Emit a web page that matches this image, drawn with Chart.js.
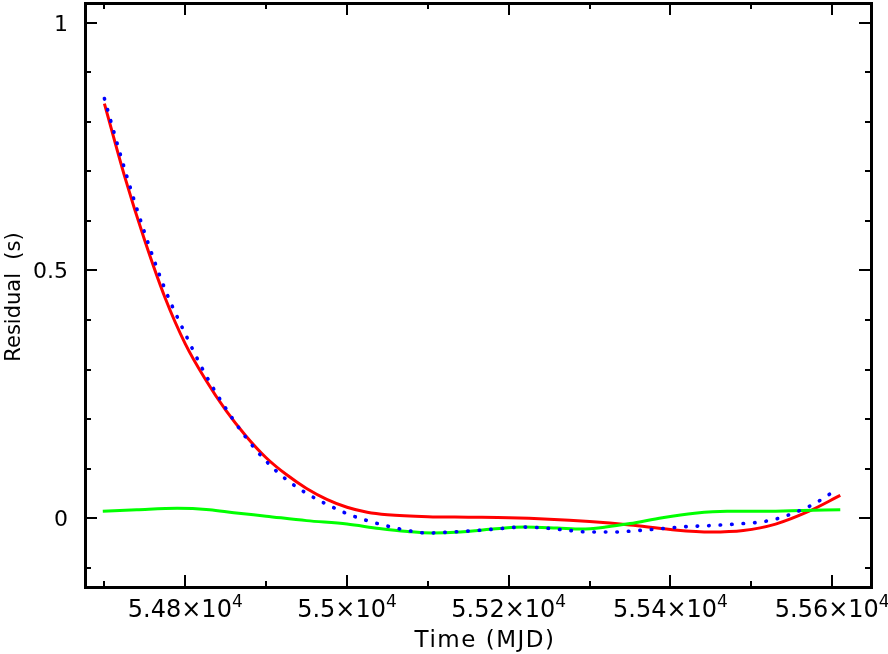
<!DOCTYPE html>
<html>
<head>
<meta charset="utf-8">
<script src="https://cdn.jsdelivr.net/npm/chart.js@4.4.0/dist/chart.umd.min.js"></script>
<style>
  html, body { margin: 0; padding: 0; background: #fff; }
  #wrap { width: 888px; height: 654px; }
</style>
</head>
<body>
<div id="wrap"><canvas id="chart" width="888" height="654"></canvas></div>
<script>
// red fit (solid)
const redMjd = [54700, 54725, 54750, 54775, 54800, 54825, 54850, 54875, 54900, 54925, 54950, 54975,
  55000, 55025, 55050, 55100, 55150, 55200, 55250, 55300, 55350, 55400, 55450, 55490, 55530, 55570, 55610];
const redRes = [0.837, 0.690, 0.560, 0.445, 0.352, 0.280, 0.218, 0.166, 0.122, 0.088, 0.060, 0.038,
  0.022, 0.012, 0.007, 0.003, 0.002, 0.001, -0.002, -0.007, -0.014, -0.023, -0.028, -0.025, -0.012, 0.013, 0.046];

// blue fit (dotted)
const blueMjd = [54700, 54725, 54750, 54775, 54800, 54825, 54850, 54875, 54900, 54925, 54950, 54975,
  55000, 55025, 55050, 55075, 55100, 55130, 55160, 55190, 55215, 55245, 55270, 55300, 55330, 55360,
  55390, 55420, 55450, 55480, 55510, 55530, 55555, 55580, 55602];
const blueRes = [0.847, 0.705, 0.575, 0.462, 0.372, 0.290, 0.222, 0.163, 0.115, 0.078, 0.050, 0.028,
  0.009, -0.005, -0.016, -0.025, -0.030, -0.028, -0.025, -0.021, -0.018, -0.020, -0.024, -0.028, -0.028, -0.025,
  -0.021, -0.017, -0.015, -0.012, -0.008, -0.002, 0.012, 0.031, 0.054];

// green fit (solid)
const greenMjd = [54698, 54740, 54790, 54830, 54860, 54900, 54950, 55000, 55040, 55075, 55105, 55140,
  55180, 55220, 55260, 55290, 55320, 55350, 55390, 55430, 55470, 55510, 55550, 55610];
const greenRes = [0.014, 0.017, 0.020, 0.017, 0.011, 0.004, -0.005, -0.012, -0.021, -0.027, -0.030, -0.028,
  -0.022, -0.018, -0.020, -0.022, -0.018, -0.011, 0.001, 0.010, 0.014, 0.014, 0.015, 0.017];

// ticks
const xMajor = [54800, 55000, 55200, 55400, 55600];
const xMajorLabels = ["5.48", "5.5", "5.52", "5.54", "5.56"];
const xExponent = "4";
const xMinor = [54700, 54900, 55100, 55300, 55500];
const yMajor = [0, 0.5, 1];
const yMajorLabels = ["0", "0.5", "1"];
const yMinor = [-0.1, 0.1, 0.2, 0.3, 0.4, 0.6, 0.7, 0.8, 0.9];

const xTitle = "Time (MJD)";
const yTitle = "Residual  (s)";

const toPoints = (xs, ys) => xs.map((x, i) => ({ x: x, y: ys[i] }));

const FONT = '"DejaVu Sans", sans-serif';

// frame, inward ticks and labels (pgplot style)
const framePlugin = {
  id: "frame",
  afterDatasetsDraw(chart) {
    const ctx = chart.ctx;
    const a = chart.chartArea;
    const xs = chart.scales.x;
    const ys = chart.scales.y;
    ctx.save();
    ctx.strokeStyle = "#000";
    ctx.lineWidth = 3;
    ctx.strokeRect(a.left + 0.5, a.top + 0.5, a.right - a.left, a.bottom - a.top);

    ctx.lineWidth = 2;
    ctx.beginPath();
    const xTick = (v, len) => {
      const px = Math.round(xs.getPixelForValue(v));
      ctx.moveTo(px, a.bottom);
      ctx.lineTo(px, a.bottom - len);
      ctx.moveTo(px, a.top);
      ctx.lineTo(px, a.top + len);
    };
    const yTick = (v, len) => {
      const py = Math.round(ys.getPixelForValue(v));
      ctx.moveTo(a.left, py);
      ctx.lineTo(a.left + len, py);
      ctx.moveTo(a.right, py);
      ctx.lineTo(a.right - len, py);
    };
    xMajor.forEach((v) => xTick(v, 12));
    xMinor.forEach((v) => xTick(v, 6));
    yMajor.forEach((v) => yTick(v, 12));
    yMinor.forEach((v) => yTick(v, 6));
    ctx.stroke();

    ctx.fillStyle = "#000";
    ctx.textBaseline = "alphabetic";

    // y tick labels
    ctx.font = "22px " + FONT;
    ctx.textAlign = "right";
    yMajor.forEach((v, i) => {
      ctx.fillText(yMajorLabels[i], 68, ys.getPixelForValue(v) + 8);
    });

    // x tick labels, mantissa x 10^4
    ctx.textAlign = "left";
    xMajor.forEach((v, i) => {
      const base = xMajorLabels[i] + "\u00d710";
      ctx.font = "24px " + FONT;
      const wb = ctx.measureText(base).width;
      ctx.font = "17px " + FONT;
      const we = ctx.measureText(xExponent).width;
      const left = xs.getPixelForValue(v) - (wb + we) / 2;
      ctx.font = "24px " + FONT;
      ctx.fillText(base, left, 617);
      ctx.font = "17px " + FONT;
      ctx.fillText(xExponent, left + wb, 607);
    });

    // axis titles
    ctx.font = "23px " + FONT;
    ctx.textAlign = "center";
    ctx.letterSpacing = "1.5px";
    ctx.fillText(xTitle, 485, 647);
    ctx.letterSpacing = "0px";

    ctx.font = "21px " + FONT;
    ctx.translate(20, 297);
    ctx.rotate(-Math.PI / 2);
    ctx.fillText(yTitle, 0, 0);
    ctx.restore();
  },
};

const chart = new Chart(document.getElementById("chart"), {
  type: "line",
  data: {
    datasets: [
      {
        label: "blue",
        data: toPoints(blueMjd, blueRes),
        borderColor: "#0000ff",
        borderWidth: 3.6,
        borderDash: [0.5, 11],
        borderCapStyle: "round",
        pointRadius: 0,
        cubicInterpolationMode: "monotone",
        order: 0,
      },
      {
        label: "green",
        data: toPoints(greenMjd, greenRes),
        borderColor: "#00ff00",
        borderWidth: 3,
        pointRadius: 0,
        cubicInterpolationMode: "monotone",
        order: 1,
      },
      {
        label: "red",
        data: toPoints(redMjd, redRes),
        borderColor: "#ff0000",
        borderWidth: 3,
        pointRadius: 0,
        cubicInterpolationMode: "monotone",
        order: 2,
      },
    ],
  },
  options: {
    responsive: false,
    animation: false,
    devicePixelRatio: 1,
    events: [],
    layout: {
      padding: { left: 85, right: 17, top: 3, bottom: 67 },
    },
    scales: {
      x: { type: "linear", min: 54676, max: 55648, display: false },
      y: { type: "linear", min: -0.139, max: 1.04, display: false },
    },
    plugins: {
      legend: { display: false },
      tooltip: { enabled: false },
    },
  },
  plugins: [framePlugin],
});
</script>
</body>
</html>
